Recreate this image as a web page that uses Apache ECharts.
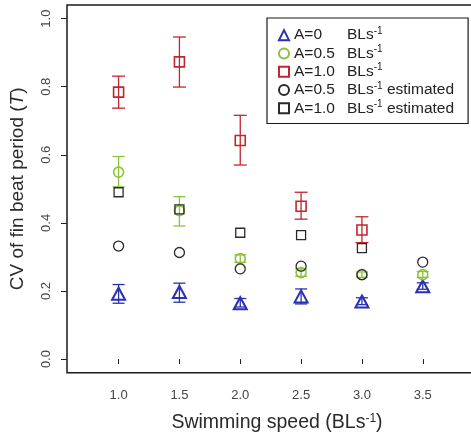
<!DOCTYPE html>
<html>
<head>
<meta charset="utf-8">
<script src="https://cdn.jsdelivr.net/npm/echarts@6/dist/echarts.min.js"></script>
<style>
html,body{margin:0;padding:0;background:#fff;overflow:hidden;}
#main{width:471px;height:436px;}
</style>
</head>
<body>
<div id="main"></div>
<script>
// ---- data ----
const speeds = [1.0, 1.5, 2.0, 2.5, 3.0, 3.5];
const xTicks = [1.0, 1.5, 2.0, 2.5, 3.0, 3.5];
const yTicks = [0.0, 0.2, 0.4, 0.6, 0.8, 1.0];

const a0Mean = [0.192, 0.197, 0.164, 0.184, 0.169, 0.214];
const a0Lo   = [0.164, 0.167, 0.153, 0.162, 0.160, 0.205];
const a0Hi   = [0.219, 0.223, 0.178, 0.206, 0.180, 0.224];

const a05Mean = [0.549, 0.436, 0.295, 0.254, 0.248, 0.248];
const a05Lo   = [0.506, 0.391, 0.284, 0.243, 0.240, 0.240];
const a05Hi   = [0.595, 0.477, 0.306, 0.265, 0.256, 0.257];

const a10Speeds = [1.0, 1.5, 2.0, 2.5, 3.0];
const a10Mean = [0.784, 0.873, 0.642, 0.449, 0.379];
const a10Lo   = [0.737, 0.799, 0.570, 0.411, 0.342];
const a10Hi   = [0.831, 0.946, 0.716, 0.490, 0.418];

const est05Speeds = [1.0, 1.5, 2.0, 2.5, 3.0, 3.5];
const est05 = [0.332, 0.313, 0.265, 0.273, 0.248, 0.285];

const est10Speeds = [1.0, 1.5, 2.0, 2.5, 3.0];
const est10 = [0.490, 0.440, 0.371, 0.364, 0.326];

const seriesNames = ['A=0', 'A=0.5', 'A=1.0', 'A=0.5 est', 'A=1.0 est'];
const legendLabels = {
  'A=0':       '{a|A=0}{b|BLs}{s|-1}',
  'A=0.5':     '{a|A=0.5}{b|BLs}{s|-1}',
  'A=1.0':     '{a|A=1.0}{b|BLs}{s|-1}',
  'A=0.5 est': '{a|A=0.5}{b|BLs}{s|-1}{b| estimated}',
  'A=1.0 est': '{a|A=1.0}{b|BLs}{s|-1}{b| estimated}'
};

// ---- styles ----
const BLUE = '#2a31b0', GREEN = '#8cc23a', RED = '#c1272d', BLACK = '#2a2a2a';
const FONT = '"Liberation Sans", Arial, Helvetica, sans-serif';

function pts(xs, ys) { return xs.map((x, i) => [x, ys[i]]); }
function errs(xs, lo, hi) { return xs.map((x, i) => [x, lo[i], hi[i]]); }

function errSeries(name, data, color, cap) {
  return {
    type: 'custom', name: name, data: data, z: 2,
    encode: { x: 0, y: [1, 2] },
    silent: true,
    renderItem: function (params, api) {
      const x = api.value(0), lo = api.value(1), hi = api.value(2);
      const t = api.coord([x, hi]), b = api.coord([x, lo]);
      const st = { stroke: color, lineWidth: 1.3, fill: null };
      return {
        type: 'group',
        children: [
          { type: 'line', shape: { x1: t[0], y1: t[1], x2: b[0], y2: b[1] }, style: st },
          { type: 'line', shape: { x1: t[0] - cap, y1: t[1], x2: t[0] + cap, y2: t[1] }, style: st },
          { type: 'line', shape: { x1: b[0] - cap, y1: b[1], x2: b[0] + cap, y2: b[1] }, style: st }
        ]
      };
    }
  };
}

function pointSeries(name, data, color, symbol, size, bw) {
  return {
    type: 'scatter', name: name, data: data, z: 3,
    symbol: symbol, symbolSize: size,
    itemStyle: { color: 'rgba(255,255,255,0)', borderColor: color, borderWidth: bw, opacity: 1 },
    emphasis: { disabled: true }
  };
}

const chart = echarts.init(document.getElementById('main'), null, { renderer: 'canvas' });

const option = {
  animation: false,
  backgroundColor: '#fff',
  textStyle: { fontFamily: FONT },
  grid: {
    left: 67, top: 5, height: 367.7, width: 420,
    outerBoundsMode: 'none',
    containLabel: false,
    show: true, borderColor: '#1a1a1a', borderWidth: 1.5, backgroundColor: 'transparent'
  },
  legend: {
    data: seriesNames,
    orient: 'vertical',
    left: 267, top: 18,
    padding: [8, 14, 6, 11],
    itemGap: 0,
    itemWidth: 10, itemHeight: 10,
    borderColor: '#1a1a1a', borderWidth: 1.2,
    backgroundColor: '#fff',
    selectedMode: false,
    formatter: function (n) { return legendLabels[n]; },
    textStyle: {
      fontFamily: FONT, color: '#222', fontSize: 15.5, lineHeight: 18.3,
      rich: {
        a: { width: 53, fontSize: 15.5, color: '#222', lineHeight: 18.3, fontFamily: FONT },
        b: { fontSize: 15.5, color: '#222', lineHeight: 18.3, fontFamily: FONT },
        s: { fontSize: 10, color: '#222', lineHeight: 10, verticalAlign: 'top', fontFamily: FONT }
      }
    }
  },
  xAxis: {
    type: 'value', min: 0.576, max: 4.028,
    splitLine: { show: false },
    axisLine: { show: false },
    axisTick: { show: true, inside: false, length: 5, customValues: xTicks, lineStyle: { color: '#222', width: 1 } },
    axisLabel: {
      customValues: xTicks, margin: 16, fontSize: 13, color: '#444', fontFamily: FONT,
      formatter: function (v) { return v.toFixed(1); }
    },
    name: 'Swimming speed (BLs{s|-1})',
    nameLocation: 'middle', nameGap: 40,
    nameTextStyle: {
      fontSize: 19.5, color: '#2a2a2a', fontFamily: FONT,
      rich: {
        s: { fontSize: 12, color: '#2a2a2a', verticalAlign: 'top', lineHeight: 12, fontFamily: FONT }
      }
    }
  },
  yAxis: {
    type: 'value', min: -0.04, max: 1.04,
    splitLine: { show: false },
    axisLine: { show: false },
    axisTick: { show: true, inside: false, length: 6, customValues: yTicks, lineStyle: { color: '#222', width: 1 } },
    axisLabel: {
      customValues: yTicks, rotate: 90, margin: 14, fontSize: 13, color: '#444', fontFamily: FONT,
      formatter: function (v) { return v.toFixed(1); }
    },
    name: 'CV of fin beat period ({it|T})',
    nameLocation: 'middle', nameGap: 40, nameRotate: 90,
    nameTextStyle: {
      fontSize: 19, color: '#2a2a2a', fontFamily: FONT,
      rich: {
        it: { fontSize: 19, fontStyle: 'italic', color: '#2a2a2a', fontFamily: FONT }
      }
    }
  },
  series: [
    errSeries('err0', errs(speeds, a0Lo, a0Hi), BLUE, 6),
    errSeries('err05', errs(speeds, a05Lo, a05Hi), GREEN, 6),
    errSeries('err10', errs(a10Speeds, a10Lo, a10Hi), RED, 6.5),
    pointSeries('A=0', pts(speeds, a0Mean), BLUE, 'triangle', [13, 12], 2),
    pointSeries('A=0.5', pts(speeds, a05Mean), GREEN, 'circle', 10, 1.6),
    pointSeries('A=1.0', pts(a10Speeds, a10Mean), RED, 'rect', 10, 1.6),
    pointSeries('A=0.5 est', pts(est05Speeds, est05), BLACK, 'circle', 10, 1.3),
    pointSeries('A=1.0 est', pts(est10Speeds, est10), BLACK, 'rect', 9, 1.3)
  ]
};

chart.setOption(option);
</script>
</body>
</html>
